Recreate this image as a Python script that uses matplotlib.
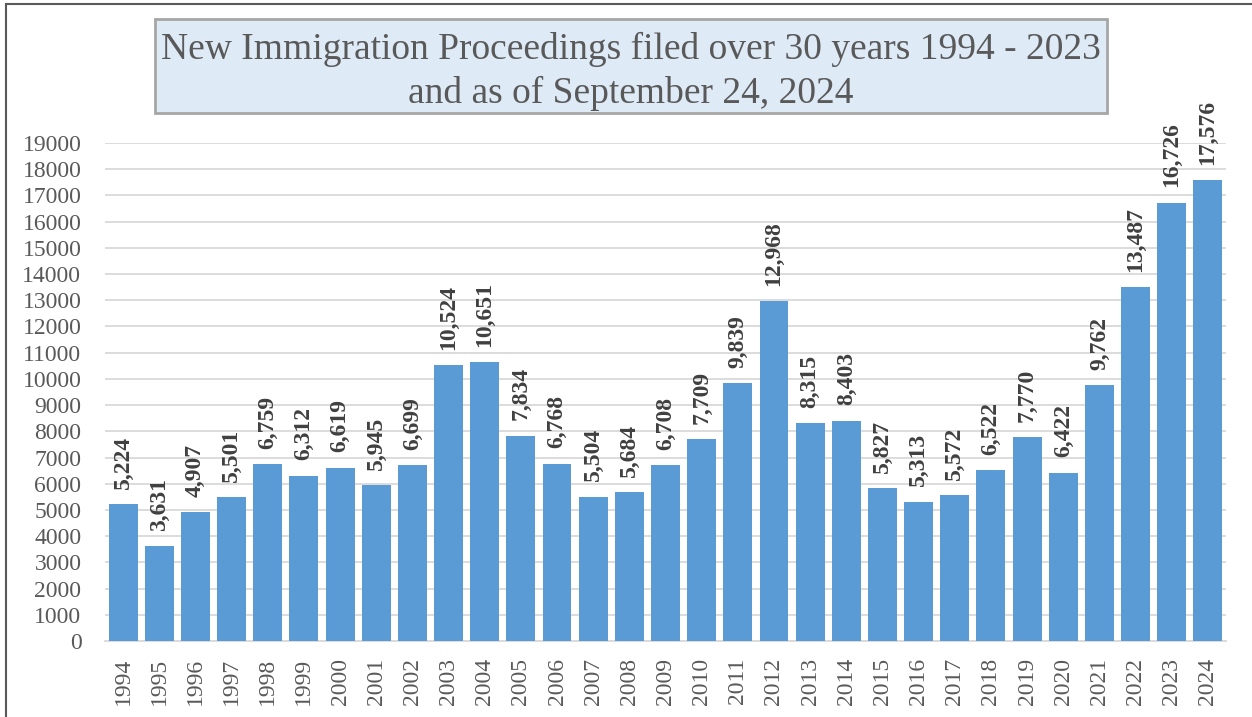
import matplotlib.pyplot as plt
from matplotlib.lines import Line2D
from matplotlib.patches import Rectangle

years = list(range(1994, 2025))
filings = [5224, 3631, 4907, 5501, 6759, 6312, 6619, 5945, 6699, 10524,
           10651, 7834, 6768, 5504, 5684, 6708, 7709, 9839, 12968, 8315,
           8403, 5827, 5313, 5572, 6522, 7770, 6422, 9762, 13487, 16726,
           17576]
title = "New Immigration Proceedings filed over 30 years 1994 - 2023\nand as of September 24, 2024"

plt.rcParams['font.family'] = ['Liberation Serif', 'DejaVu Serif']
text_gray = '#595959'
bar_blue = '#5B9BD5'

W, H = 1252, 717
fig = plt.figure(figsize=(W/100, H/100), dpi=100)
ax = fig.add_axes([105/W, 1 - 641/H, (1226-105)/W, (641-143)/H])

x = list(range(len(years)))
ax.bar(x, filings, width=0.8, color=bar_blue, zorder=3)
for xi, v in zip(x, filings):
    ax.annotate(f"{v:,}", (xi, v), xytext=(0, 11), textcoords='offset points',
                rotation=90, ha='center', va='bottom', fontsize=17,
                fontweight='bold', color='#404040')

ax.set_xlim(-0.5, len(years) - 0.5)
ax.set_ylim(0, 19000)
ax.set_yticks(range(0, 19001, 1000))
ax.set_xticks(x)
ax.set_xticklabels([str(y) for y in years], rotation=90)
ax.tick_params(axis='both', length=0, labelsize=17, colors=text_gray)
ax.tick_params(axis='y', pad=17)
ax.tick_params(axis='x', pad=12)
ax.grid(axis='y', color='#D9D9D9', linewidth=1.3, zorder=0)
for s in ['top', 'right', 'left']:
    ax.spines[s].set_visible(False)
ax.spines['bottom'].set_color('#D9D9D9')
ax.spines['bottom'].set_linewidth(1.3)

# title box
fig.patches.append(Rectangle((155/W, 1 - 113/H), (1107-155)/W, (113-19)/H,
                             transform=fig.transFigure, facecolor='#DEEAF6',
                             edgecolor='#A6A6A6', linewidth=2))
fig.text(631/W, 1 - 71/H, title, ha='center', va='center', fontsize=27,
         color=text_gray, linespacing=1.33)

# outer border
fig.lines.append(Line2D([6/W, 6/W], [0, 1 - 3.5/H], transform=fig.transFigure,
                        color='#595959', linewidth=1.5))
fig.lines.append(Line2D([6/W, 1], [1 - 3.5/H, 1 - 3.5/H], transform=fig.transFigure,
                        color='#595959', linewidth=1.5))

fig.savefig('out.png', dpi=100)
